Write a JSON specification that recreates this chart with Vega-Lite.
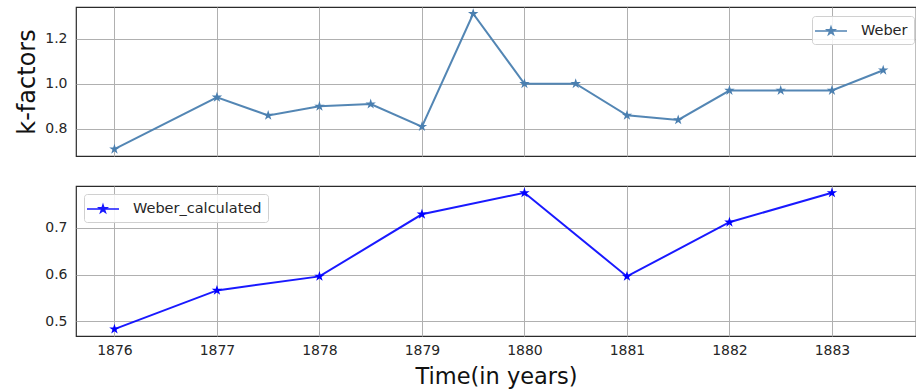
{
  "$schema": "https://vega.github.io/schema/vega-lite/v6.json",
  "padding": {"left": 15, "top": 6, "right": 1, "bottom": 2},
  "background": "white",
  "config": {
    "font": "DejaVu Sans",
    "view": {"stroke": "#2b2b2b", "strokeWidth": 1.2},
    "axis": {
      "grid": true,
      "gridColor": "#b0b0b0",
      "gridWidth": 1,
      "ticks": false,
      "domain": false,
      "labelFont": "DejaVu Sans",
      "labelFontSize": 14,
      "labelColor": "#262626",
      "titleFont": "DejaVu Sans",
      "titleFontWeight": "normal",
      "titleColor": "#111111"
    },
    "legend": {
      "labelFont": "DejaVu Sans",
      "labelFontSize": 14.5,
      "labelColor": "#262626",
      "fillColor": "rgba(255,255,255,0.85)",
      "strokeColor": "#d0d0d0",
      "cornerRadius": 3,
      "padding": 6,
      "title": null,
      "symbolSize": 256,
      "labelOffset": 25
    }
  },
  "datasets": {
    "weber": [
      {"year": 1876, "k": 0.71, "series": "Weber"},
      {"year": 1877, "k": 0.94, "series": "Weber"},
      {"year": 1877.5, "k": 0.86, "series": "Weber"},
      {"year": 1878, "k": 0.90, "series": "Weber"},
      {"year": 1878.5, "k": 0.91, "series": "Weber"},
      {"year": 1879, "k": 0.81, "series": "Weber"},
      {"year": 1879.5, "k": 1.31, "series": "Weber"},
      {"year": 1880, "k": 1.00, "series": "Weber"},
      {"year": 1880.5, "k": 1.00, "series": "Weber"},
      {"year": 1881, "k": 0.86, "series": "Weber"},
      {"year": 1881.5, "k": 0.84, "series": "Weber"},
      {"year": 1882, "k": 0.97, "series": "Weber"},
      {"year": 1882.5, "k": 0.97, "series": "Weber"},
      {"year": 1883, "k": 0.97, "series": "Weber"},
      {"year": 1883.5, "k": 1.06, "series": "Weber"}
    ],
    "calc": [
      {"year": 1876, "k": 0.483, "series": "Weber_calculated"},
      {"year": 1877, "k": 0.566, "series": "Weber_calculated"},
      {"year": 1878, "k": 0.596, "series": "Weber_calculated"},
      {"year": 1879, "k": 0.729, "series": "Weber_calculated"},
      {"year": 1880, "k": 0.775, "series": "Weber_calculated"},
      {"year": 1881, "k": 0.596, "series": "Weber_calculated"},
      {"year": 1882, "k": 0.712, "series": "Weber_calculated"},
      {"year": 1883, "k": 0.775, "series": "Weber_calculated"}
    ]
  },
  "vconcat": [
    {
      "width": 840,
      "height": 149,
      "data": {"name": "weber"},
      "encoding": {
        "x": {
          "field": "year", "type": "quantitative",
          "scale": {"domain": [1875.625, 1883.82], "nice": false, "zero": false},
          "axis": {"labels": false, "title": null, "values": [1876, 1877, 1878, 1879, 1880, 1881, 1882, 1883]}
        },
        "y": {
          "field": "k", "type": "quantitative",
          "scale": {"domain": [0.68, 1.34], "nice": false, "zero": false},
          "axis": {"values": [0.8, 1.0, 1.2], "format": ".1f", "title": "k-factors", "titleFontSize": 24, "labelPadding": 9, "titlePadding": 5}
        },
        "color": {
          "field": "series", "type": "nominal",
          "scale": {"domain": ["Weber"], "range": ["#4a7fb0"]},
          "legend": {
            "orient": "none", "legendX": 736, "legendY": 9,
            "symbolType": "M-1.5,0H2.5M0.5,-0.5L0.6123,-0.1546L0.9755,-0.1545L0.6818,0.0591L0.7939,0.4045L0.5,0.191L0.2061,0.4045L0.3182,0.0591L0.0245,-0.1545L0.3877,-0.1546Z",
            "encode": {"symbols": {"update": {"fill": {"value": "#4a7fb0"}, "stroke": {"value": "#4a7fb0"}, "strokeWidth": {"value": 1.8}, "opacity": {"value": 1}}}}
          }
        }
      },
      "layer": [
        {"mark": {"type": "line", "strokeWidth": 2, "opacity": 0.95}},
        {"mark": {"type": "point", "filled": true, "opacity": 1, "size": 120, "shape": "M0,-1L0.2245,-0.309L0.951,-0.309L0.3633,0.118L0.5878,0.809L0,0.382L-0.5878,0.809L-0.3633,0.118L-0.951,-0.309L-0.2245,-0.309Z"}}
      ]
    },
    {
      "width": 840,
      "height": 150,
      "data": {"name": "calc"},
      "encoding": {
        "x": {
          "field": "year", "type": "quantitative",
          "scale": {"domain": [1875.625, 1883.82], "nice": false, "zero": false},
          "axis": {"values": [1876, 1877, 1878, 1879, 1880, 1881, 1882, 1883], "format": "d", "title": "Time(in years)", "titleFontSize": 22.5, "labelPadding": 7, "titlePadding": 8}
        },
        "y": {
          "field": "k", "type": "quantitative",
          "scale": {"domain": [0.4684, 0.7896], "nice": false, "zero": false},
          "axis": {"values": [0.5, 0.6, 0.7], "format": ".1f", "title": null, "labelPadding": 9}
        },
        "color": {
          "field": "series", "type": "nominal",
          "scale": {"domain": ["Weber_calculated"], "range": ["#0000ff"]},
          "legend": {
            "orient": "none", "legendX": 8, "legendY": 8,
            "symbolType": "M-1.5,0H2.5M0.5,-0.5L0.6123,-0.1546L0.9755,-0.1545L0.6818,0.0591L0.7939,0.4045L0.5,0.191L0.2061,0.4045L0.3182,0.0591L0.0245,-0.1545L0.3877,-0.1546Z",
            "encode": {"symbols": {"update": {"fill": {"value": "#0000ff"}, "stroke": {"value": "#0000ff"}, "strokeWidth": {"value": 1.8}, "opacity": {"value": 1}}}}
          }
        }
      },
      "layer": [
        {"mark": {"type": "line", "strokeWidth": 2, "opacity": 0.9}},
        {"mark": {"type": "point", "filled": true, "opacity": 1, "size": 120, "shape": "M0,-1L0.2245,-0.309L0.951,-0.309L0.3633,0.118L0.5878,0.809L0,0.382L-0.5878,0.809L-0.3633,0.118L-0.951,-0.309L-0.2245,-0.309Z"}}
      ]
    }
  ],
  "spacing": 28,
  "resolve": {"scale": {"color": "independent"}, "legend": {"color": "independent"}}
}
